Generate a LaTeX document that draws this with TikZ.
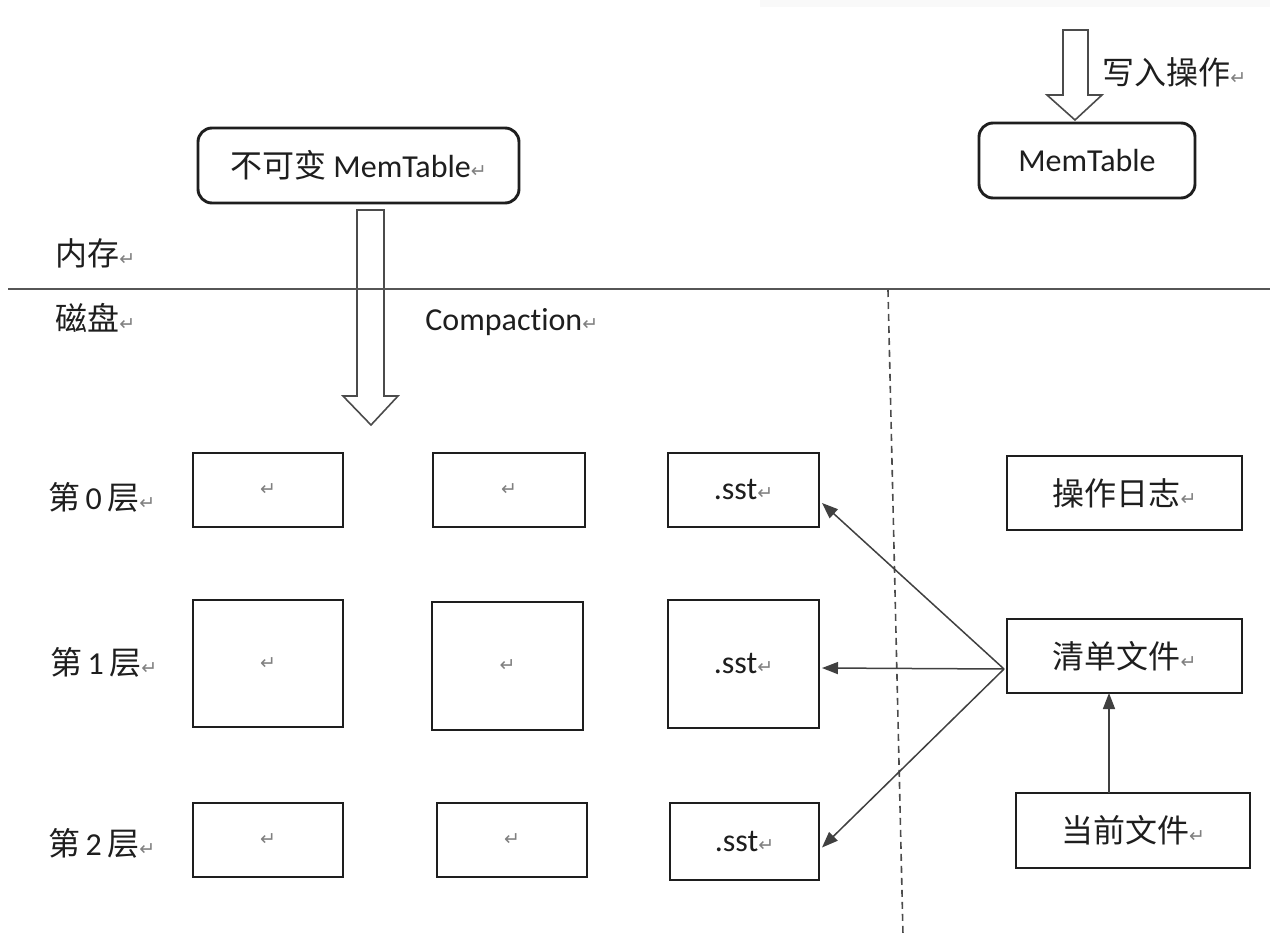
\documentclass[tikz,border=0pt]{standalone}
\usepackage{fontspec}
\setmainfont{Carlito}[Ligatures=NoCommon]
\newfontfamily\cjk{Noto Sans CJK SC}
\newfontfamily\symfont{DejaVu Sans}
\usetikzlibrary{arrows.meta,calc}
\definecolor{ink}{HTML}{1E1E1E}
% paragraph mark shown after each text
\newcommand\rmk{{\symfont\fontsize{9.5}{9.5}\selectfont\textcolor{gray}{↵}}}

\begin{document}
\begin{tikzpicture}[x=0.5pt,y=-0.5pt,
  every node/.style={font=\fontsize{16}{19}\selectfont, text=ink},
  box/.style={draw=ink, line width=1.45pt, inner sep=0pt, outer sep=0pt},
  rbox/.style={box, rounded corners=7pt},
  lbl/.style={inner sep=0pt, anchor=west},
  link/.style={draw=ink!85, line width=0.75pt, -{Triangle[length=8pt,width=6pt]}},
  blk/.style={draw=ink!80, line width=0.8pt, line join=miter},
  rule/.style={draw=ink!75, line width=0.9pt}]

\fill[white] (0,0) rectangle (1270,937);
\useasboundingbox (0,0) rectangle (1270,937);
\fill[gray!5] (760,0) rectangle (1270,7);

% memory side
\node[rbox, minimum width=160.5pt, minimum height=37.5pt] (imm) at (358.5,165.5) {{\cjk 不可变} MemTable\rmk};
\node[rbox, minimum width=108pt, minimum height=37.5pt] (mem) at (1087,160.5) {MemTable};
\node[lbl] (wr) at (1102,72) {{\cjk 写入操作}\rmk};

% block arrows
\draw[blk] (1063,30) -- (1088,30) -- (1088,95) -- (1102,95) -- (1075,120) -- (1047,95) -- (1063,95) -- cycle;
\draw[blk] (357,210) -- (384,210) -- (384,396) -- (398,396) -- (371,425) -- (343,396) -- (357,396) -- cycle;

% memory / disk divider
\draw[rule] (8,289) -- (1270,289);
\draw[draw=ink!80, line width=0.8pt, dash pattern=on 3.5pt off 2.5pt] (888,290) -- (903,935);

\node[lbl] (lmem) at (55,253) {{\cjk 内存}\rmk};
\node[lbl] (ldisk) at (55,318) {{\cjk 磁盘}\rmk};
\node[lbl] (cmp) at (425,322) {Compaction\rmk};

% levels
\node[lbl] (l0) at (48,497) {{\cjk 第}\,0\,{\cjk 层}\rmk};
\node[lbl] (l1) at (50,662) {{\cjk 第}\,1\,{\cjk 层}\rmk};
\node[lbl] (l2) at (48,843) {{\cjk 第}\,2\,{\cjk 层}\rmk};

\node[box, minimum width=75pt, minimum height=37pt] (a0) at (268,490) {\rmk};
\node[box, minimum width=76pt, minimum height=37pt] (b0) at (509,490) {\rmk};
\node[box, minimum width=75.5pt, minimum height=37pt] (c0) at (743.5,490) {.sst\rmk};

\node[box, minimum width=75pt, minimum height=63.5pt] (a1) at (268,663.5) {\rmk};
\node[box, minimum width=75.5pt, minimum height=64pt] (b1) at (507.5,666) {\rmk};
\node[box, minimum width=75.5pt, minimum height=64pt] (c1) at (743.5,664) {.sst\rmk};

\node[box, minimum width=75pt, minimum height=37pt] (a2) at (268,840) {\rmk};
\node[box, minimum width=75pt, minimum height=37pt] (b2) at (512,840) {\rmk};
\node[box, minimum width=74.5pt, minimum height=38.5pt] (c2) at (744.5,841.5) {.sst\rmk};

% metadata files
\node[box, minimum width=117.5pt, minimum height=37pt] (log) at (1124.5,493) {{\cjk 操作日志}\rmk};
\node[box, minimum width=117.5pt, minimum height=37pt] (man) at (1124.5,656) {{\cjk 清单文件}\rmk};
\node[box, minimum width=117pt, minimum height=37.5pt] (cur) at (1133,830.5) {{\cjk 当前文件}\rmk};

\coordinate (hub) at ($(man.west)+(-3,13)$);
\draw[link] (hub) -- ($(c0.east)+(3,13)$);
\draw[link] (hub) -- ($(c1.east)+(3,4)$);
\draw[link] (hub) -- ($(c2.east)+(3,6)$);
\draw[link] ($(cur.north)+(-24,0)$) -- ($(man.south)+(-15.5,0)$);
\end{tikzpicture}
\end{document}
